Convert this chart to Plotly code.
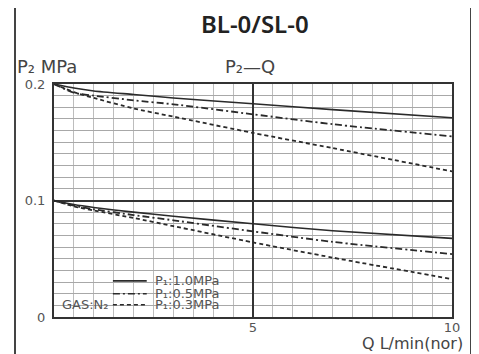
import plotly.graph_objects as go

# Flow rate Q (L/min, normal)
q = [0, 0.5, 1, 2, 3, 5, 7, 10]

# P2 = 0.2 MPa set point
top_p1_10 = [0.200, 0.1965, 0.194, 0.191, 0.188, 0.183, 0.178, 0.171]
top_p1_05 = [0.200, 0.1925, 0.190, 0.186, 0.1826, 0.174, 0.1655, 0.155]
top_p1_03 = [0.200, 0.193, 0.188, 0.179, 0.172, 0.158, 0.145, 0.125]

# P2 = 0.1 MPa set point
bot_p1_10 = [0.100, 0.0965, 0.094, 0.090, 0.0865, 0.080, 0.074, 0.0675]
bot_p1_05 = [0.100, 0.0955, 0.0925, 0.0875, 0.083, 0.0735, 0.0645, 0.054]
bot_p1_03 = [0.100, 0.095, 0.0915, 0.085, 0.078, 0.064, 0.051, 0.0325]

x_ticks = [0, 5, 10]
x_tick_labels = ["", "5", "10"]
y_ticks = [0, 0.1, 0.2]
y_tick_labels = ["0", "0.1", "0.2"]

legend_labels = ["P₁:1.0MPa", "P₁:0.5MPa", "P₁:0.3MPa"]
legend_dashes = ["solid", "dashdot", "dot"]

FONT = "DejaVu Sans"
LINE = "#2a2a2a"
DASH = {"solid": "solid", "dashdot": "7px,3px,2px,3px", "dot": "4px,3px"}

fig = go.Figure()
series = [(top_p1_10, "solid"), (top_p1_05, "dashdot"), (top_p1_03, "dot"),
          (bot_p1_10, "solid"), (bot_p1_05, "dashdot"), (bot_p1_03, "dot")]
for ys, dash in series:
    w = 1.6 if dash == "solid" else 1.8
    fig.add_trace(go.Scatter(x=q, y=ys, mode="lines",
                             line=dict(color=LINE, width=w, dash=DASH[dash], shape="spline", smoothing=0.6),
                             showlegend=False, hoverinfo="skip"))

# legend sample lines (in data coordinates)
leg_y = [0.031, 0.020, 0.0105]
for yv, dash in zip(leg_y, legend_dashes):
    fig.add_trace(go.Scatter(x=[1.48, 2.33], y=[yv, yv], mode="lines",
                             line=dict(color=LINE, width=1.6, dash=DASH[dash]),
                             showlegend=False, hoverinfo="skip"))
for yv, lab in zip(leg_y, legend_labels):
    fig.add_annotation(x=2.48, y=yv, text=lab, showarrow=False, xanchor="left", yanchor="middle",
                       font=dict(family=FONT, size=13, color="#555"))
fig.add_annotation(x=0.15, y=leg_y[2], text="GAS:N₂", showarrow=False, xanchor="left", yanchor="middle",
                   font=dict(family=FONT, size=13, color="#555"))

fig.update_xaxes(range=[0, 10], tickvals=x_ticks, ticktext=x_tick_labels,
                 showgrid=True, gridcolor="#333", gridwidth=1.5,
                 minor=dict(dtick=0.5, showgrid=True, gridcolor="#bdbdbd", gridwidth=1.4),
                 showline=True, linecolor="#333", linewidth=2, mirror=True,
                 ticks="", tickfont=dict(family=FONT, size=13, color="#555"), zeroline=False,
                 ticklabelstandoff=-3)
fig.update_yaxes(range=[0, 0.2], tickvals=y_ticks, ticktext=y_tick_labels,
                 showgrid=True, gridcolor="#333", gridwidth=1.5,
                 minor=dict(dtick=0.01, showgrid=True, gridcolor="#a8a8a8", gridwidth=1),
                 showline=True, linecolor="#333", linewidth=2, mirror=True,
                 ticks="", tickfont=dict(family=FONT, size=13, color="#555"), zeroline=False,
                 ticklabelstandoff=4)

# page body adds an 8px offset; work in window pixels and compensate
OFF = 8
W, H = 479 - OFF, 354 - OFF
PL, PR, PT, PB = 54, 452, 84, 317  # plot area in window pixels
L, R, T, B = PL - OFF, W - (PR - OFF), PT - OFF, H - (PB - OFF)
PW, PH = PR - PL, PB - PT

def px(xp):
    return (xp - PL) / PW

def py(yp):
    return (PB - yp) / PH

frame = dict(xref="paper", yref="paper", type="line", line=dict(color="#444", width=2), layer="above")
fig.update_layout(
    width=W, height=H,
    margin=dict(l=L, r=R, t=T, b=B, autoexpand=False),
    paper_bgcolor="white", plot_bgcolor="white",
    showlegend=False,
    shapes=[
        dict(frame, x0=px(15), x1=px(15), y0=py(356), y1=py(3)),
        dict(frame, x0=px(471), x1=px(471), y0=py(356), y1=py(3)),
        dict(frame, x0=px(15), x1=px(471), y0=py(3), y1=py(3)),
    ],
    annotations=list(fig.layout.annotations) + [
        dict(xref="paper", yref="paper", x=px(255), y=py(23), text="BL-0/SL-0", showarrow=False,
             xanchor="center", yanchor="middle", font=dict(family="Noto Sans", size=24, color="#222", weight=600)),
        dict(xref="paper", yref="paper", x=px(15), y=py(66), text="P₂ MPa", showarrow=False,
             xanchor="left", yanchor="middle", font=dict(family=FONT, size=18, color="#444")),
        dict(xref="paper", yref="paper", x=px(223), y=py(66), text="P₂—Q", showarrow=False,
             xanchor="left", yanchor="middle", font=dict(family=FONT, size=18, color="#444")),
        dict(xref="paper", yref="paper", x=px(465), y=py(343), text="Q L/min(nor)", showarrow=False,
             xanchor="right", yanchor="middle", font=dict(family=FONT, size=16, color="#444")),
    ],
)

fig.write_html("out.html")
